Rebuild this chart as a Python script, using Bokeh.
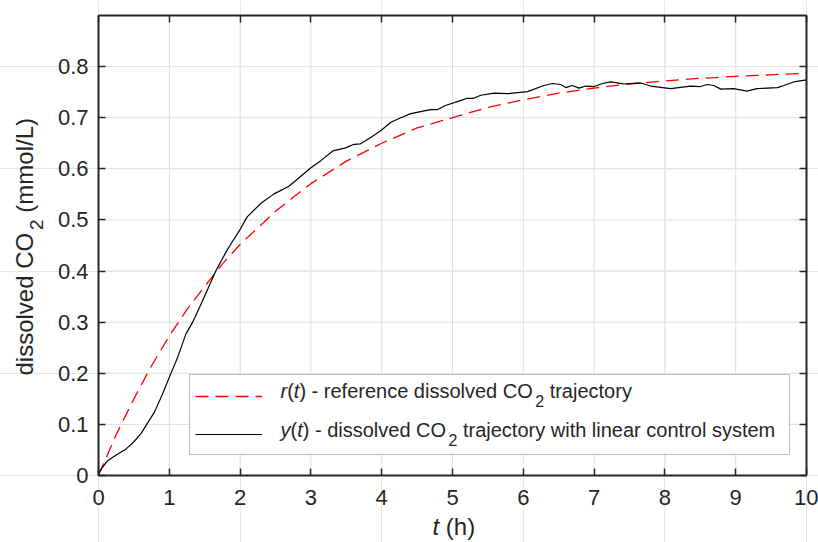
import math
from bokeh.plotting import figure
from bokeh.models import Range1d, LinearAxis, FixedTicker, Label, Legend, LegendItem, BoxAnnotation
from bokeh.embed import file_html
from bokeh.resources import INLINE

# ---------------- data ----------------
r_t = [0, 0.25, 0.5, 0.75, 1.0, 1.25, 1.5, 1.75, 2.0, 2.5, 3.0, 3.5, 4.0, 4.5,
       5.0, 5.5, 6.0, 6.5, 7.0, 7.5, 8.0, 8.5, 9.0, 9.5, 10.0]
r_val = [0.0, 0.080, 0.150, 0.215, 0.273, 0.325, 0.370, 0.414, 0.452, 0.517,
         0.571, 0.615, 0.650, 0.680, 0.700, 0.720, 0.735, 0.748, 0.758, 0.766,
         0.772, 0.777, 0.781, 0.784, 0.787]

y_t = [0, 0.05, 0.13, 0.25, 0.39, 0.5, 0.6, 0.79, 0.9, 1.0, 1.12, 1.235, 1.33,
       1.47, 1.66, 1.8, 1.87, 1.99, 2.1, 2.29, 2.48, 2.69, 3.0, 3.14, 3.31, 3.49,
       3.61, 3.7, 3.85, 3.99, 4.13, 4.27, 4.41, 4.55, 4.69, 4.79, 4.9, 5.12, 5.21,
       5.3, 5.4, 5.59, 5.78, 6.06, 6.29, 6.41, 6.53, 6.6, 6.69, 6.79, 6.88, 7.0,
       7.12, 7.23, 7.33, 7.42, 7.66, 7.8, 8.08, 8.36, 8.5, 8.6, 8.69, 8.79, 8.97,
       9.16, 9.3, 9.59, 9.68, 9.82, 10.0]
y_val = [0.005, 0.015, 0.029, 0.040, 0.052, 0.066, 0.082, 0.124, 0.158, 0.192,
         0.232, 0.277, 0.300, 0.342, 0.401, 0.437, 0.453, 0.479, 0.506, 0.532,
         0.551, 0.566, 0.602, 0.616, 0.635, 0.641, 0.648, 0.649, 0.662, 0.675,
         0.691, 0.700, 0.708, 0.712, 0.716, 0.716, 0.724, 0.734, 0.738, 0.738,
         0.744, 0.748, 0.747, 0.751, 0.763, 0.767, 0.765, 0.759, 0.763, 0.758,
         0.762, 0.761, 0.767, 0.770, 0.768, 0.766, 0.768, 0.762, 0.757, 0.762,
         0.761, 0.765, 0.763, 0.756, 0.757, 0.752, 0.757, 0.759, 0.763, 0.770,
         0.774]

x_ticks = [0, 1, 2, 3, 4, 5, 6, 7, 8, 9, 10]
y_ticks = [0, 0.1, 0.2, 0.3, 0.4, 0.5, 0.6, 0.7, 0.8]
y_tick_labels = ["0", "0.1", "0.2", "0.3", "0.4", "0.5", "0.6", "0.7", "0.8"]
X_MIN, X_MAX = 0, 10
Y_MIN, Y_MAX = 0, 0.9

# ---------------- layout (pixels) ----------------
CW, CH = 818, 542          # canvas
BOX_L, BOX_R = 98, 806     # plot box in canvas pixels
BOX_T, BOX_B = 15, 475
sx = (BOX_R - BOX_L) / (X_MAX - X_MIN)
sy = (BOX_B - BOX_T) / (Y_MAX - Y_MIN)
xr = Range1d(X_MIN - BOX_L / sx, X_MAX + (CW - BOX_R) / sx)
yr = Range1d(Y_MIN - (CH - BOX_B) / sy, Y_MAX + BOX_T / sy)

def px2x(px):
    return X_MIN + (px - BOX_L) / sx

def py2y(py):
    return Y_MIN + (BOX_B - py) / sy

FONT = "Liberation Sans"
AX = "#262626"
GRID = "#dedede"
TICK_FS = 22

p = figure(width=CW, height=CH, min_border=0, x_range=xr, y_range=yr,
           x_axis_location=None, y_axis_location=None,
           output_backend="svg", toolbar_location=None)
p.outline_line_color = None
p.background_fill_color = "white"
p.border_fill_color = "white"

# ---------------- grid (limited to the box) ----------------
p.segment(x0=x_ticks, y0=[Y_MIN] * len(x_ticks), x1=x_ticks, y1=[Y_MAX] * len(x_ticks),
          line_color=GRID, line_width=1, level="image")
p.segment(x0=[X_MIN] * len(y_ticks), y0=y_ticks, x1=[X_MAX] * len(y_ticks), y1=y_ticks,
          line_color=GRID, line_width=1, level="image")

# ---------------- axes (box with inward ticks) ----------------
def make_axis(ticks, loc, bounds, show_labels):
    ax = LinearAxis(fixed_location=loc, bounds=bounds, ticker=FixedTicker(ticks=ticks))
    ax.axis_line_color = AX
    ax.axis_line_width = 2
    ax.major_tick_line_color = AX
    ax.major_tick_line_width = 1.5
    ax.major_tick_in = 7
    ax.major_tick_out = 0
    ax.minor_tick_line_color = None
    ax.major_label_text_font = FONT
    ax.major_label_text_font_size = f"{TICK_FS}px"
    ax.major_label_text_color = AX if show_labels else None
    return ax

bottom = make_axis(x_ticks, Y_MIN, (X_MIN, X_MAX), True)
bottom.major_label_standoff = 14
left = make_axis(y_ticks, X_MIN, (Y_MIN, Y_MAX), True)
left.major_label_standoff = 10
left.major_label_overrides = {v: s for v, s in zip(y_ticks, y_tick_labels)}
top = make_axis(x_ticks, Y_MAX, (X_MIN, X_MAX), False)
right = make_axis(y_ticks, X_MAX, (Y_MIN, Y_MAX), False)
p.add_layout(bottom, "below")
p.add_layout(left, "left")
p.add_layout(top, "above")
p.add_layout(right, "right")

# ---------------- data lines ----------------
r_line = p.line(r_t, r_val, line_color="#ff0000", line_width=1.3, line_dash="13 7")
y_line = p.line(y_t, y_val, line_color="#000000", line_width=1.2)

# ---------------- legend: white box, Bokeh samples, rich text on top ----------------
LEG_L, LEG_R, LEG_T, LEG_B = 189, 789, 374, 454
p.add_layout(BoxAnnotation(left=px2x(LEG_L), right=px2x(LEG_R),
                           top=py2y(LEG_T), bottom=py2y(LEG_B),
                           fill_color="white", fill_alpha=1.0,
                           line_color=AX, line_width=1, level="underlay"))
legend = Legend(items=[LegendItem(label=" ", renderers=[r_line]),
                       LegendItem(label=" ", renderers=[y_line])],
                location=(LEG_L + 6, CH - LEG_B + 6), orientation="vertical",
                padding=7, spacing=10, margin=0,
                glyph_width=67, glyph_height=28, label_height=28,
                label_width=LEG_R - LEG_L - 14 - 67 - 8, label_standoff=8,
                border_line_color=None, background_fill_alpha=0.0,
                label_text_color=None)
p.add_layout(legend)

# Arial / Liberation Sans advance widths (per 1000 em)
W = {" ": 278, "(": 333, ")": 333, "-": 333, "/": 278, ".": 278, "2": 556,
     "a": 556, "c": 500, "d": 556, "e": 556, "f": 278, "h": 556, "i": 222,
     "j": 222, "l": 222, "m": 833, "n": 556, "o": 556, "r": 333, "s": 500,
     "t": 278, "v": 500, "w": 722, "y": 500, "C": 722, "O": 778, "L": 556}

def tw(s, fs):
    return sum(W.get(c, 556) for c in s) / 1000.0 * fs

BASE_FIX = 0.4   # Bokeh places the "alphabetic" baseline this many em lower

def rich(runs, px, py, fs, vertical=False):
    """runs: list of (text, kind) with kind 'n', 'i' or 'sub'.
    px, py: canvas pixels (from top-left) of the start of the baseline."""
    x0 = px - BOX_L
    y0 = BOX_B - py
    pos = 0.0
    for text, kind in runs:
        size = fs
        drop = 0.0
        style = "italic" if kind == "i" else "normal"
        if kind == "sub":
            size = round(fs * 0.8)
            drop = fs * 0.42
            pos += fs * 0.12
        lead = len(text) - len(text.lstrip(" "))
        pos += tw(" " * lead, size)
        core = text.strip(" ")
        fix = BASE_FIX * size
        if vertical:
            xo, yo, ang = x0 + drop - fix, y0 + pos, math.pi / 2
        else:
            xo, yo, ang = x0 + pos, y0 - drop + fix, 0.0
        p.add_layout(Label(x=X_MIN, y=Y_MIN, x_units="data", y_units="data",
                           x_offset=xo, y_offset=yo, angle=ang, level="overlay",
                           text=core, text_font=FONT, text_font_style=style,
                           text_font_size=f"{size}px", text_color=AX,
                           text_align="left", text_baseline="alphabetic"))
        pos += tw(text.lstrip(" "), size)

LEG_FS = 20
rich([("r", "i"), ("(", "n"), ("t", "i"), (") - reference dissolved CO", "n"),
      ("2", "sub"), (" trajectory", "n")], 280, 398, LEG_FS)
rich([("y", "i"), ("(", "n"), ("t", "i"), (") - dissolved CO", "n"),
      ("2", "sub"), (" trajectory with linear control system", "n")], 280, 437, LEG_FS)

LAB_FS = 24
rich([("t", "i"), (" (h)", "n")], 432, 536, LAB_FS)
rich([("dissolved CO", "n"), ("2", "sub"), (" (mmol/L)", "n")], 34, 375, LAB_FS, vertical=True)

open("out.html", "w").write(file_html(p, INLINE))
